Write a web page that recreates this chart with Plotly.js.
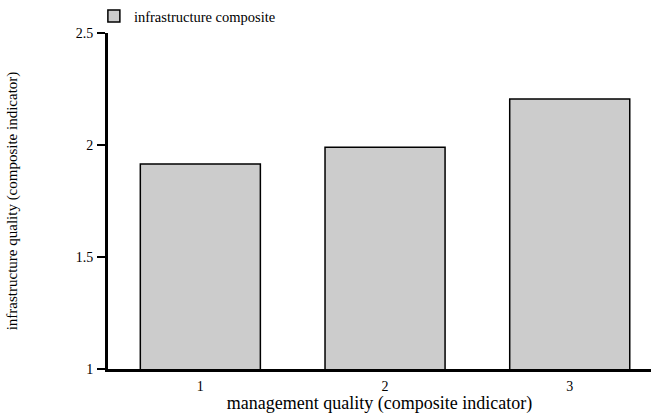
<!DOCTYPE html>
<html><head><meta charset="utf-8">
<script src="https://cdn.plot.ly/plotly-3.0.1.min.js"></script>
<style>html,body{margin:0;padding:0;background:#fff}#c{width:651px;height:414px}</style>
</head><body><div id="c"></div>
<script>
const categories = [1, 2, 3];
const infraValues = [1.915, 1.99, 2.205];
const seriesName = 'infrastructure composite';
const yTicks = [1, 1.5, 2, 2.5];
const yTickLabels = ['1', '1.5', '2', '2.5'];

const trace = {
  type: 'bar', x: categories, y: infraValues,
  name: seriesName, width: 0.65,
  marker: {color: '#cccccc', line: {color: '#000', width: 1.5}},
  showlegend: true
};
const fam = "'Liberation Serif', 'Times New Roman', serif";
const font = {family: fam, color: '#000', size: 13};
const layout = {
  width: 651, height: 414,
  margin: {l: 108, r: 0, t: 33, b: 45},
  paper_bgcolor: '#fff', plot_bgcolor: '#fff',
  font: font,
  showlegend: true,
  legend: {x: -0.026, y: 1, xref: 'paper', yref: 'container', xanchor: 'left', yanchor: 'top',
           font: {family: fam, size: 14.5, color: '#000'}, bgcolor: 'rgba(0,0,0,0)',
           itemwidth: 30, tracegroupgap: 0},
  xaxis: {range: [0.5, 3.44], tickvals: categories, ticktext: categories.map(String),
          showgrid: false, zeroline: false, showline: true, linecolor: '#000', linewidth: 3,
          ticks: '', tickfont: {family: fam, size: 14}, ticklabelstandoff: 2,
          title: {text: 'management quality (composite indicator)', font: {family: fam, size: 18}, standoff: 2}},
  yaxis: {range: [1, 2.5], tickvals: yTicks, ticktext: yTickLabels,
          showgrid: false, zeroline: false, showline: true, linecolor: '#000', linewidth: 3,
          ticks: 'outside', ticklen: 8, tickwidth: 2, tickcolor: '#000', tickfont: {family: fam, size: 14},
          ticklabelstandoff: 1,
          title: {text: 'infrastructure quality (composite indicator)', font: {family: fam, size: 15}, standoff: 55}},
  bargap: 0
};
Plotly.newPlot('c', [trace], layout, {displayModeBar: false, staticPlot: true});
</script></body></html>
